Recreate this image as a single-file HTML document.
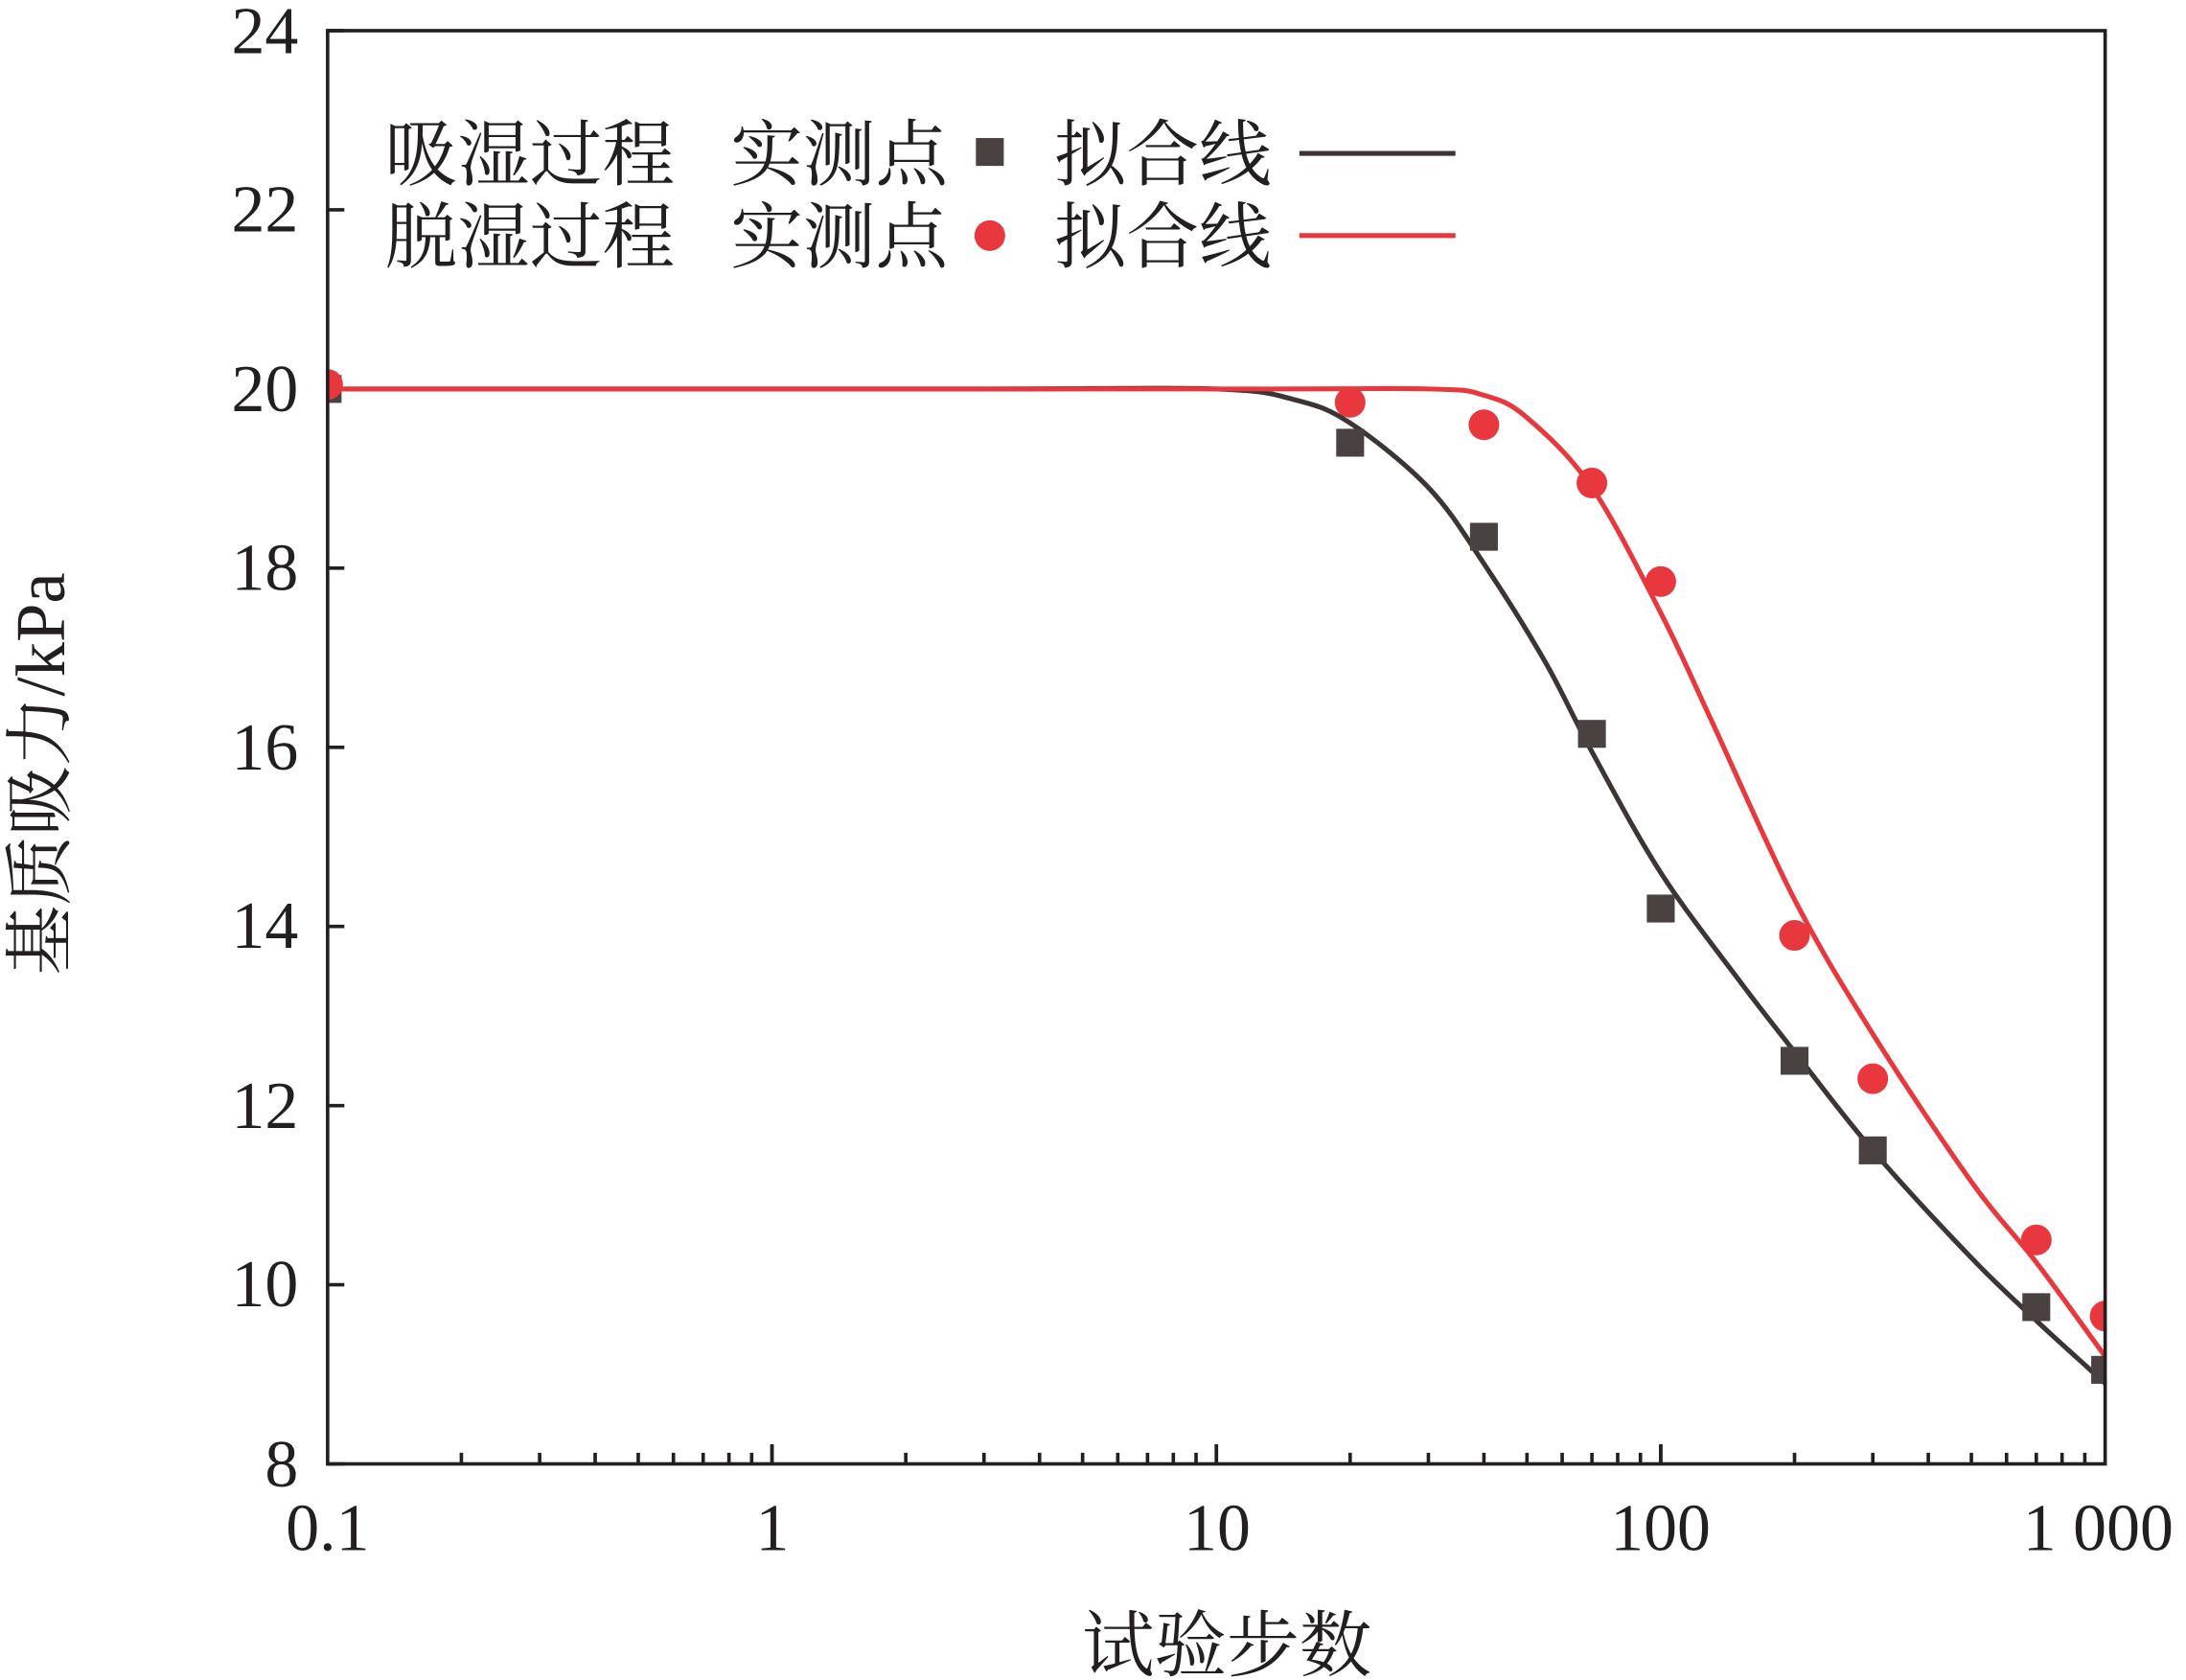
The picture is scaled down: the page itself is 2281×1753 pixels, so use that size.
<!DOCTYPE html>
<html><head><meta charset="utf-8"><style>html,body{margin:0;padding:0;background:#fff}svg{display:block}</style></head>
<body>
<svg id="s" width="2281" height="1753" viewBox="0 0 1568 1205" preserveAspectRatio="none" xmlns="http://www.w3.org/2000/svg" font-family="'Liberation Serif','Noto Serif CJK SC',serif">
<defs><clipPath id="c"><rect x="235" y="22" width="1275" height="1028"/></clipPath></defs>
<rect x="0" y="0" width="1568" height="1205" fill="#fff"/>
<g id="ticks" stroke="#231f20" stroke-width="2.5"></g>
<g font-size="48" fill="#231f20" text-anchor="end">
<text x="214" y="38">24</text><text x="214" y="166">22</text><text x="214" y="295">20</text>
<text x="214" y="423">18</text><text x="214" y="552">16</text><text x="214" y="680">14</text>
<text x="214" y="809">12</text><text x="214" y="937">10</text><text x="214" y="1066">8</text>
</g>
<g font-size="48" fill="#231f20" text-anchor="middle">
<text x="235" y="1112">0.1</text><text x="554" y="1112">1</text><text x="873" y="1112">10</text>
<text x="1191" y="1112">100</text><text x="1505" y="1112">1 000</text>
</g>
<text x="880" y="1198" font-size="52" text-anchor="middle" fill="#231f20" font-family="'Noto Serif CJK SC',serif">试验步数</text>
<text transform="translate(46,555) rotate(-90)" font-size="50" text-anchor="middle" fill="#231f20" font-family="'Liberation Serif','Noto Serif CJK SC',serif">基质吸力/kPa</text>
<g font-size="52" fill="#231f20" font-family="'Noto Serif CJK SC',serif">
<text x="276" y="129">吸湿过程</text><text x="524" y="129">实测点</text><text x="756" y="129">拟合线</text>
<text x="276" y="188">脱湿过程</text><text x="524" y="188">实测点</text><text x="756" y="188">拟合线</text>
</g>
<rect x="700" y="99" width="20" height="20" fill="#4a4240"/>
<circle cx="710" cy="169" r="11" fill="#e8383d"/>
<line x1="932" y1="110" x2="1044" y2="110" stroke="#3d3533" stroke-width="3.5"/>
<line x1="932" y1="169" x2="1044" y2="169" stroke="#e8383d" stroke-width="3.5"/>
<g id="plot" clip-path="url(#c)"></g>
<rect x="235" y="22" width="1275" height="1028" stroke="#231f20" stroke-width="2.5" fill="none"/>
</svg>
<script>
const NS="http://www.w3.org/2000/svg";
const X=v=>235+(Math.log10(v)+1)*318.75, Y=v=>22+(24-v)*64.25;
function el(p,t,a){const e=document.createElementNS(NS,t);for(const k in a)e.setAttribute(k,a[k]);p.appendChild(e);return e;}
const tk=document.getElementById('ticks');
for(let v=8;v<=24;v+=2){el(tk,'line',{x1:235,x2:247,y1:Y(v),y2:Y(v)});}
for(let d=-1;d<3;d++)for(let m=1;m<=10;m++){const v=m*Math.pow(10,d);const x=X(v);const L=(m==1||m==10)?14:8;
 if(x>235&&x<1510){el(tk,'line',{x1:x,x2:x,y1:1050,y2:1050-L});}}
function cr(pts){const P=pts.map(p=>[X(p[0]),Y(p[1])]);let d='M'+P[0][0]+','+P[0][1];
 for(let i=0;i<P.length-1;i++){const p0=P[i-1]||P[i],p1=P[i],p2=P[i+1],p3=P[i+2]||p2;
  const c1=[p1[0]+(p2[0]-p0[0])/6,p1[1]+(p2[1]-p0[1])/6],c2=[p2[0]-(p3[0]-p1[0])/6,p2[1]-(p3[1]-p1[1])/6];
  d+=' C'+c1.join(',')+' '+c2.join(',')+' '+p2.join(',');}return d;}
const pl=document.getElementById('plot');
const blk=[[0.1,20],[3,20],[10,20],[15,19.88],[20,19.62],[30,18.9],[40,18.05],[55,16.95],[70,15.95],[100,14.6],[150,13.4],[200,12.6],[300,11.5],[500,10.3],[700,9.6],[1000,8.9]];
const red=[[0.1,20],[10,20],[30,20],[40,19.93],[50,19.68],[70,18.9],[100,17.5],[130,16.3],[200,14.3],[300,12.8],[500,11.15],[700,10.25],[1000,9.2]];
el(pl,'path',{d:cr(blk),fill:'none',stroke:'#3d3533','stroke-width':3.5});
el(pl,'path',{d:cr(red),fill:'none',stroke:'#e8383d','stroke-width':3.5});
[[0.1,20],[20,19.4],[40,18.35],[70,16.15],[100,14.2],[200,12.5],[300,11.5],[700,9.75],[1000,9.05]].forEach(p=>el(pl,'rect',{x:X(p[0])-10,y:Y(p[1])-10,width:20,height:20,fill:'#4a4240'}));
[[0.1,20.05],[20,19.85],[40,19.6],[70,18.95],[100,17.85],[200,13.9],[300,12.3],[700,10.5],[1000,9.65]].forEach(p=>el(pl,'circle',{cx:X(p[0]),cy:Y(p[1]),r:11,fill:'#e8383d'}));
</script>
</body></html>
